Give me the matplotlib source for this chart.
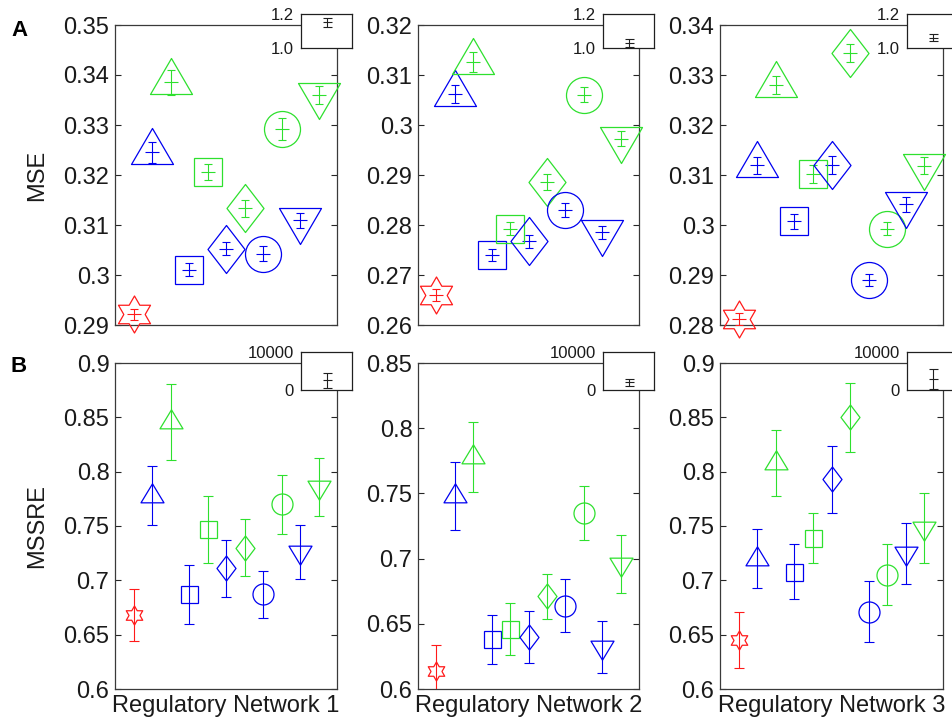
import numpy as np
import matplotlib
matplotlib.use('Agg')
import matplotlib.pyplot as plt
from matplotlib.path import Path

plt.rcParams['font.family'] = ['Liberation Sans', 'DejaVu Sans']

DPI = 100
W, H = 952, 722

# ---------------- data ----------------
networks = ['Regulatory Network 1', 'Regulatory Network 2', 'Regulatory Network 3']
methods = ['reference', 'tri-up A', 'tri-up B', 'square A', 'square B',
           'diamond A', 'diamond B', 'circle A', 'circle B', 'tri-down A', 'tri-down B']
positions = [1, 2, 3, 4, 5, 6, 7, 8, 9, 10, 11]

mse_net1 = [0.2921, 0.3246, 0.3385, 0.3011, 0.3206, 0.3053, 0.3133, 0.3043, 0.3292, 0.3110, 0.3360]
mse_err_net1 = [0.0012, 0.0021, 0.0025, 0.0013, 0.0016, 0.0013, 0.0017, 0.0014, 0.0022, 0.0015, 0.0018]
mse_net2 = [0.2660, 0.3062, 0.3127, 0.2740, 0.2793, 0.2768, 0.2886, 0.2831, 0.3061, 0.2786, 0.2973]
mse_err_net2 = [0.0012, 0.0018, 0.0020, 0.0012, 0.0013, 0.0013, 0.0016, 0.0014, 0.0015, 0.0013, 0.0015]
mse_net3 = [0.2812, 0.3120, 0.3280, 0.3008, 0.3102, 0.3121, 0.3345, 0.2891, 0.2993, 0.3042, 0.3119]
mse_err_net3 = [0.0012, 0.0017, 0.0018, 0.0015, 0.0018, 0.0018, 0.0018, 0.0012, 0.0013, 0.0015, 0.0017]

mssre_net1 = [0.668, 0.778, 0.846, 0.687, 0.747, 0.711, 0.730, 0.687, 0.770, 0.726, 0.786]
mssre_err_net1 = [0.024, 0.027, 0.035, 0.027, 0.031, 0.026, 0.026, 0.022, 0.027, 0.025, 0.027]
mssre_net2 = [0.614, 0.748, 0.778, 0.638, 0.646, 0.640, 0.671, 0.664, 0.735, 0.632, 0.696]
mssre_err_net2 = [0.020, 0.026, 0.027, 0.019, 0.020, 0.020, 0.017, 0.020, 0.021, 0.020, 0.022]
mssre_net3 = [0.645, 0.720, 0.808, 0.708, 0.739, 0.793, 0.850, 0.671, 0.705, 0.725, 0.748]
mssre_err_net3 = [0.026, 0.027, 0.030, 0.025, 0.023, 0.031, 0.032, 0.028, 0.028, 0.028, 0.032]

# outlier method shown in the small insets
inset_mse = [1.15, 1.03, 1.06]
inset_mse_err = [0.025, 0.025, 0.02]
inset_mssre = [2500, 2000, 2900]
inset_mssre_err = [2000, 1000, 2600]

mse_ylims = [(0.29, 0.35), (0.26, 0.32), (0.28, 0.34)]
mse_ticks = [[0.29, 0.30, 0.31, 0.32, 0.33, 0.34, 0.35],
             [0.26, 0.27, 0.28, 0.29, 0.30, 0.31, 0.32],
             [0.28, 0.29, 0.30, 0.31, 0.32, 0.33, 0.34]]
mssre_ylims = [(0.6, 0.9), (0.6, 0.85), (0.6, 0.9)]
mssre_ticks = [[0.6, 0.65, 0.7, 0.75, 0.8, 0.85, 0.9],
               [0.6, 0.65, 0.7, 0.75, 0.8, 0.85],
               [0.6, 0.65, 0.7, 0.75, 0.8, 0.85, 0.9]]

# ---------------- styles ----------------
RED, BLUE, GREEN = '#ff1a1a', '#0000f0', '#2ee02e'
colors = [RED, BLUE, GREEN, BLUE, GREEN, BLUE, GREEN, BLUE, GREEN, BLUE, GREEN]
shapes = ['hex', 'tri', 'tri', 'sq', 'sq', 'dia', 'dia', 'circ', 'circ', 'dtri', 'dtri']
AXC = '#262626'


def px2pt(p):
    return p * 72.0 / DPI


def make_marker(shape, big):
    """return (marker, markersize in pt); sizes given in pixels"""
    if shape == 'tri' or shape == 'dtri':
        w, h = (42, 36) if big else (23, 19)
        s = 1 if shape == 'tri' else -1
        verts = [(0, s * 2 * h / 3), (-w / 2, -s * h / 3), (w / 2, -s * h / 3), (0, s * 2 * h / 3)]
    elif shape == 'dia':
        w, h = (37, 48) if big else (19, 25)
        verts = [(0, h / 2), (w / 2, 0), (0, -h / 2), (-w / 2, 0), (0, h / 2)]
    elif shape == 'hex':
        R = 18.5 if big else 9.5
        r = R / np.sqrt(3)
        verts = []
        for k in range(12):
            ang = np.deg2rad(90 + 30 * k)
            rad = R if k % 2 == 0 else r
            verts.append((rad * np.cos(ang), rad * np.sin(ang)))
        verts.append(verts[0])
    elif shape == 'sq':
        return 's', px2pt(28 if big else 17)
    else:
        return 'o', px2pt(36 if big else 21)
    verts = np.array(verts)
    maxabs = np.max(np.abs(verts))
    return Path(verts, closed=True), px2pt(2 * maxabs)


fig = plt.figure(figsize=(W / DPI, H / DPI), dpi=DPI)

lefts = [115, 418, 720]
rights = [337, 639, 943]
rows = {'A': (25, 325), 'B': (363, 689)}


def fr_axes(l, r, t, b):
    return [l / W, 1 - b / H, (r - l) / W, (b - t) / H]


def style_main(ax, ylim, ticks):
    ax.set_xlim(0, 12)
    ax.set_ylim(*ylim)
    ax.set_yticks(ticks)
    ax.set_yticklabels(['%g' % t for t in ticks])
    ax.set_xticks([])
    ax.tick_params(axis='y', direction='in', length=4, width=0.8, right=True,
                   labelsize=17, pad=4, colors=AXC, labelcolor='#1a1a1a')
    for sp in ax.spines.values():
        sp.set_color('#3a3a3a')
        sp.set_linewidth(0.9)


def draw_points(ax, vals, errs, big, capsize_px, mid):
    for i in range(len(positions)):
        x, y, e, c = positions[i], vals[i], errs[i], colors[i]
        ax.errorbar([x], [y], yerr=[e], fmt='none', ecolor=c, elinewidth=0.8,
                    capsize=px2pt(capsize_px), capthick=0.8, zorder=3)
        if mid:
            ax.plot([x], [y], marker='_', ms=px2pt(14), mew=0.8, color=c, zorder=3)
        m, ms = make_marker(shapes[i], big)
        ax.plot([x], [y], linestyle='none', marker=m, ms=ms, mfc='none', mec=c,
                mew=0.9, clip_on=False, zorder=4)


def draw_inset(l, t, b, ylim, labels, val, err, capsize_px):
    axi = fig.add_axes(fr_axes(l, l + 51, t, b))
    axi.set_facecolor('white')
    axi.set_xlim(0, 2)
    axi.set_ylim(*ylim)
    axi.set_xticks([])
    axi.set_yticks(list(ylim))
    axi.set_yticklabels(labels)
    axi.tick_params(axis='y', length=0, labelsize=12, pad=5, labelcolor='#1a1a1a')
    for sp in axi.spines.values():
        sp.set_color('#202020')
        sp.set_linewidth(0.9)
    axi.errorbar([1], [val], yerr=[err], fmt='none', ecolor='#202020', elinewidth=0.8,
                 capsize=px2pt(capsize_px), capthick=0.8, clip_on=False)
    axi.plot([1], [val], marker='_', ms=px2pt(9), mew=0.8, color='#202020')
    axi.set_zorder(10)
    return axi


mse_vals = [mse_net1, mse_net2, mse_net3]
mse_errs = [mse_err_net1, mse_err_net2, mse_err_net3]
mssre_vals = [mssre_net1, mssre_net2, mssre_net3]
mssre_errs = [mssre_err_net1, mssre_err_net2, mssre_err_net3]

for j in range(3):
    t, b = rows['A']
    ax = fig.add_axes(fr_axes(lefts[j], rights[j], t, b))
    style_main(ax, mse_ylims[j], mse_ticks[j])
    draw_points(ax, mse_vals[j], mse_errs[j], True, 4, True)
    if j == 0:
        ax.set_ylabel('MSE', fontsize=17, color='#1a1a1a')
        ax.yaxis.set_label_coords(-0.30, 0.5)
    draw_inset(rights[j] - 36, 14, 48, (1.0, 1.2), ['1.0', '1.2'],
               inset_mse[j], inset_mse_err[j], 4.5)

    t, b = rows['B']
    ax = fig.add_axes(fr_axes(lefts[j], rights[j], t, b))
    style_main(ax, mssre_ylims[j], mssre_ticks[j])
    draw_points(ax, mssre_vals[j], mssre_errs[j], False, 5, False)
    ax.set_xlabel(networks[j], fontsize=17, color='#1a1a1a', labelpad=4)
    if j == 0:
        ax.set_ylabel('MSSRE', fontsize=17, color='#1a1a1a')
        ax.yaxis.set_label_coords(-0.30, 0.5)
    draw_inset(rights[j] - 36, 352, 390, (0, 10000), ['0', '10000'],
               inset_mssre[j], inset_mssre_err[j], 4.5)

fig.text(11 / W, 1 - 30 / H, 'A', fontsize=16, fontweight='bold', ha='left', va='center')
fig.text(11 / W, 1 - 367 / H, 'B', fontsize=16, fontweight='bold', ha='left', va='center')

fig.savefig('out.png', dpi=DPI)
